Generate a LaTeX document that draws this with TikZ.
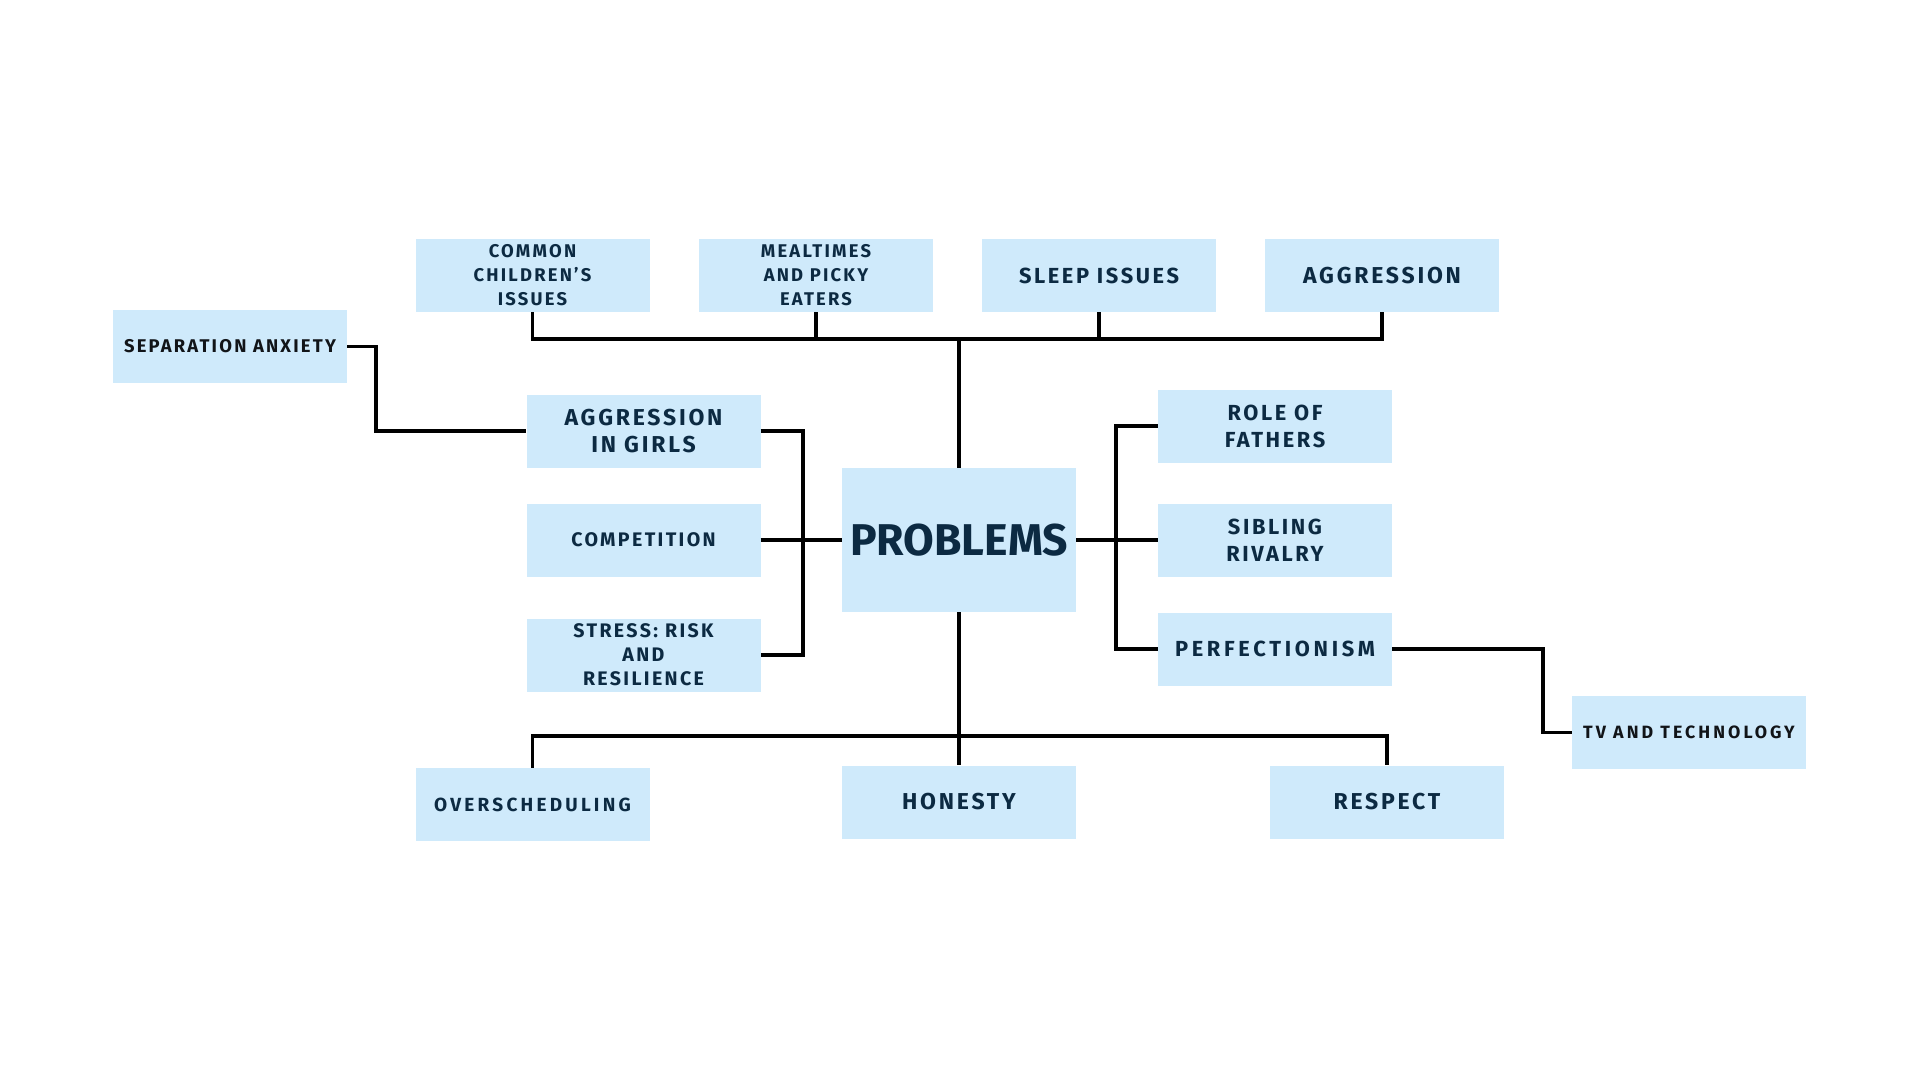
\documentclass[tikz,border=0pt]{standalone}
\usepackage{fontspec}
\setmainfont{Fira Sans}[LetterSpace=12]
\newfontfamily\titlefont{Fira Sans}
\newfontfamily\widefont{Fira Sans}[LetterSpace=17]
\usetikzlibrary{positioning,calc}
\definecolor{boxblue}{RGB}{207,234,251}
\definecolor{navy}{RGB}{12,42,66}
\definecolor{inky}{RGB}{17,20,24}

\begin{document}
\begin{tikzpicture}[x=1pt,y=-1pt,
	topic/.style={fill=boxblue, minimum width=234pt, minimum height=73pt, inner sep=0pt, align=center, text=navy},
	small/.style={font=\fontsize{18.4}{24}\selectfont\bfseries},
	medium/.style={font=\fontsize{21.8}{27}\selectfont\bfseries},
	large/.style={font=\fontsize{23}{27}\selectfont\bfseries},
	link/.style={line width=3.4pt, black}]
	\useasboundingbox (0,0) rectangle (1920,1080);

	% centre
	\node[topic, minimum height=144pt, font=\titlefont\fontsize{44.5}{48}\selectfont\bfseries] (prob) at (959, 540) {PROBLEMS};

	% top row
	\node[topic, small] (common) at (532.5, 275.5) {COMMON\\CHILDREN'S\\ISSUES};
	\node[topic, small] (meal) at (816, 275.5) {MEALTIMES\\AND PICKY\\EATERS};
	\node[topic, medium] (sleep) at (1099, 275.5) {SLEEP ISSUES};
	\node[topic, large] (aggr) at (1382, 275.5) {AGGRESSION};

	% left column
	\node[topic, small, text=inky] (sep) at (230, 346.5) {SEPARATION ANXIETY};
	\node[topic, large] (girls) at (643.5, 431) {AGGRESSION\\IN GIRLS};
	\node[topic, font=\fontsize{19.6}{24}\selectfont\bfseries] (comp) at (643.5, 540) {COMPETITION};
	\node[topic, font=\fontsize{19.6}{24}\selectfont\bfseries] (stress) at (643.5, 655) {STRESS: RISK\\AND\\RESILIENCE};

	% right column
	\node[topic, medium] (fathers) at (1275, 426) {ROLE OF\\FATHERS};
	\node[topic, medium] (sibling) at (1275, 540) {SIBLING\\RIVALRY};
	\node[topic, font=\widefont\fontsize{21.8}{27}\selectfont\bfseries] (perf) at (1275, 649) {PERFECTIONISM};
	\node[topic, font=\widefont\fontsize{17.8}{22}\selectfont\bfseries, text=inky] (tv) at (1689, 732.5) {TV AND TECHNOLOGY};

	% bottom row
	\node[topic, font=\widefont\fontsize{19}{24}\selectfont\bfseries] (oversched) at (532.5, 804.5) {OVERSCHEDULING};
	\node[topic, large] (honesty) at (959, 802) {HONESTY};
	\node[topic, large] (respect) at (1387, 802) {RESPECT};

	\coordinate (topbus) at (959, 339);
	\coordinate (botbus) at (959, 736);
	\coordinate (lbar) at (803, 540);
	\coordinate (rbar) at (1116, 540);
	\coordinate (sepbend) at (376, 390);
	\coordinate (tvbend) at (1543, 690);

	\draw[link] (common.south) |- (aggr.south |- topbus) -- (aggr.south);
	\draw[link] (meal.south) -- (meal.south |- topbus);
	\draw[link] (sleep.south) -- (sleep.south |- topbus);
	\draw[link] (prob.north) -- (topbus);

	\draw[link] (girls.east) -| (lbar) |- (stress.east);
	\draw[link] (comp.east) -- (prob.west);
	\draw[link] (sep.east) -| (sepbend) |- (girls.west);

	\draw[link] (fathers.west) -| (rbar) |- (perf.west);
	\draw[link] (prob.east) -- (sibling.west);
	\draw[link] (perf.east) -| (tvbend) |- (tv.west);

	\draw[link] (oversched.north) |- (respect.north |- botbus) -- (respect.north);
	\draw[link] (prob.south) -- (honesty.north);
\end{tikzpicture}
\end{document}
